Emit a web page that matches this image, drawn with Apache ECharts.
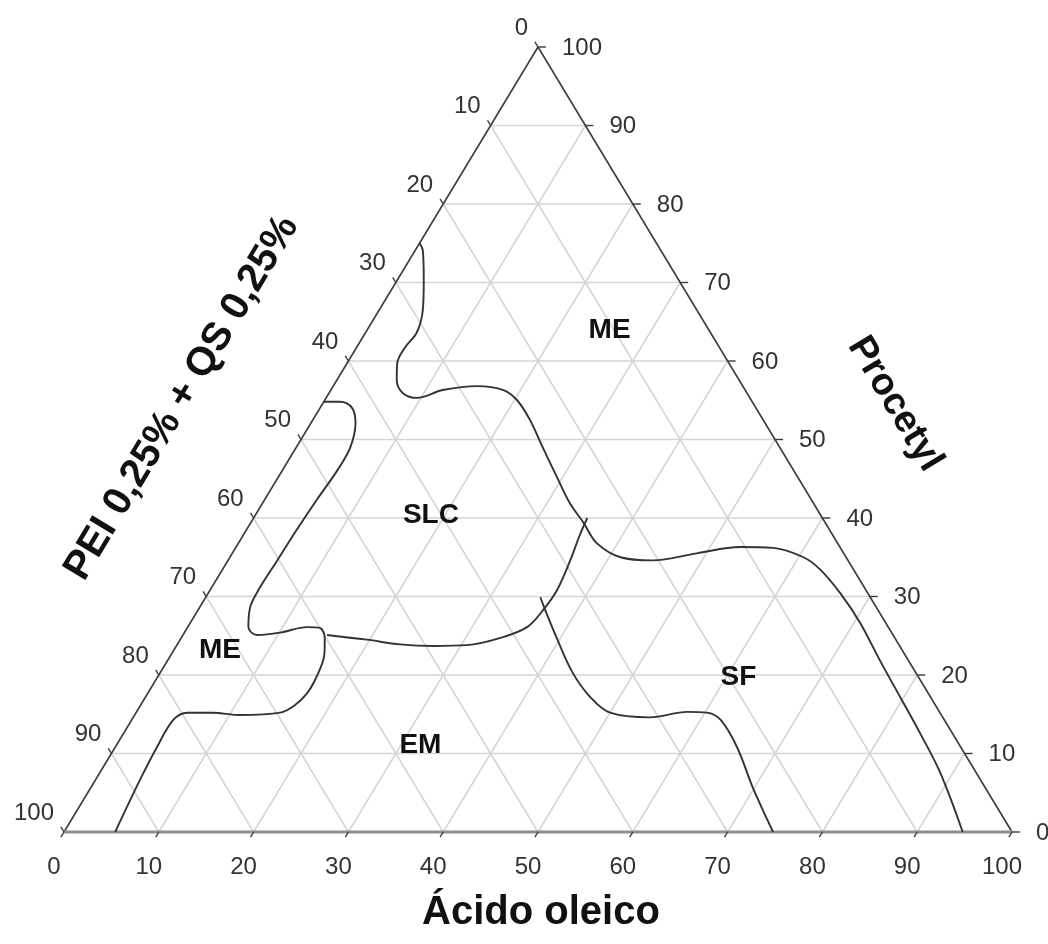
<!DOCTYPE html>
<html><head><meta charset="utf-8">
<script src="https://cdn.jsdelivr.net/npm/echarts@6/dist/echarts.min.js"></script>
<style>html,body{margin:0;padding:0;background:#fff}#c{width:1048px;height:944px}</style>
</head><body><div id="c"></div>
<script>
// ---- data (ternary compositions: [Ácido oleico %, Procetyl %]; PEI = 100 - both) ----
const tickValues = [0,10,20,30,40,50,60,70,80,90,100];
const tickLabels = ['0','10','20','30','40','50','60','70','80','90','100'];
const gridLevels = [10,20,30,40,50,60,70,80,90];
const axisTitles = ['Ácido oleico','Procetyl','PEI 0,25% + QS 0,25%'];

const curveMEupper = [[0,75.0],[0.8,74.1],[2.8,70.3],[4.6,66.5],[5.4,63.6],[5.1,61.7],[5.3,59.7],[6.3,57.6],[7.8,55.9],[9.6,55.3],[11.8,56.3],[15.2,56.8],[18.2,56.3],[20.3,55.0],[22.9,52.5],[26.0,49.0],[29.4,45.2],[32.4,41.9],[35.1,39.4],[37.8,36.8],[41.2,35.0],[44.8,34.6],[49.0,35.5],[53.2,36.3],[56.7,36.2],[60.5,35.0],[63.1,33.4],[66.7,30.4],[70.7,26.6],[75.1,21.9],[79.6,17.2],[84.0,12.6],[88.7,7.5],[94.8,0]];
const curveSLCleft = [[0,54.8],[1.7,54.8],[3.4,54.0],[4.7,52.1],[5.7,49.0],[5.8,46.1],[5.5,42.3],[5.3,38.5],[5.2,34.6],[5.1,31.2],[5.3,28.7],[6.4,26.1],[7.8,25.1],[10.1,25.4],[12.6,26.1],[14.0,26.0],[15.1,24.8],[15.7,23.6],[16.4,21.9],[16.8,19.4],[16.8,17.7],[16.3,16.2],[15.2,15.2],[11.1,14.9],[8.1,15.2],[5.4,15.2],[4.4,14.3],[4.4,10.8],[4.7,6.6],[5.4,0]];
const curveSLClower = [[15.2,25.1],[19.7,24.5],[23.5,23.9],[27.1,23.7],[30.6,23.8],[33.6,24.7],[35.8,26.1],[36.4,28.3],[36.6,30.8],[36.1,34.6],[35.5,37.8],[35.2,40.0]];
const curveEMSF = [[35.3,29.9],[36.6,28.3],[39.8,24.5],[43.5,20.3],[46.9,17.2],[50.0,15.2],[54.5,14.6],[58.1,15.3],[60.2,15.2],[62.1,14.3],[65.6,10.8],[69.8,5.7],[74.8,0]];

const regionNames = ['ME','SLC','ME','SF','EM'];
const regionOleic = [25.6,18.5,4.9,61.3,32.1];
const regionProcetyl = [63.9,40.4,23.1,19.7,11.0];

// ---- ternary -> cartesian (x in 0..100 along base, y = Procetyl) ----
function toXY(p){ return [p[0] + p[1]/2, p[1]]; }

const FONT = '"Liberation Sans", Arial, Helvetica, sans-serif';
const chart = echarts.init(document.getElementById('c'), null, {renderer:'canvas'});

const gridData = [];
[0,1,2].forEach(f => gridLevels.forEach(k => gridData.push([f,k])));
const tickData = [];
[0,1,2].forEach(a => tickValues.forEach((v,i) => tickData.push([a,v,i])));
const regionData = regionNames.map((n,i) => { const xy = toXY([regionOleic[i], regionProcetyl[i]]); return [xy[0], xy[1], i]; });

function curveSeries(pts){
  return {type:'line', data: pts.map(toXY), smooth:0.35, showSymbol:false, clip:false,
    lineStyle:{color:'#333333', width:1.9}, z:5, silent:true};
}

const option = {
  backgroundColor:'#ffffff',
  animation:false,
  grid:{left:64, right:36, top:47, bottom:112},
  xAxis:{type:'value', min:0, max:100, show:false},
  yAxis:{type:'value', min:0, max:100, show:false},
  series:[
    { // grid lines
      type:'custom', data:gridData, z:1, silent:true, clip:false,
      renderItem:function(params, api){
        const f = api.value(0), k = api.value(1);
        let a, b;
        if (f === 0){ a=[0,k]; b=[100-k,k]; }          // constant Procetyl
        else if (f === 1){ a=[k,0]; b=[k,100-k]; }     // constant Ácido oleico
        else { a=[100-k,0]; b=[0,100-k]; }             // constant PEI
        const p1 = api.coord(toXY(a)), p2 = api.coord(toXY(b));
        return {type:'line', shape:{x1:p1[0],y1:p1[1],x2:p2[0],y2:p2[1]},
          style:{stroke:'#d5d5d5', lineWidth:1.5}};
      }
    },
    { // triangle side edges
      type:'line', data:[[0,0],[0,100],[100,0]].map(toXY), showSymbol:false, clip:false, silent:true,
      lineStyle:{color:'#3c3c3c', width:1.6}, z:3
    },
    { // bottom edge
      type:'line', data:[[0,0],[100,0]].map(toXY), showSymbol:false, clip:false, silent:true,
      lineStyle:{color:'#8e8e8e', width:3.2}, z:3
    },
    { // ticks and tick labels
      type:'custom', data:tickData, z:4, silent:true, clip:false,
      renderItem:function(params, api){
        const ax = api.value(0), v = api.value(1), i = api.value(2);
        let p, d, lx, ly, al;
        if (ax === 0){ p = api.coord(toXY([v,0])); d=[-0.518*6, 0.855*6]; lx=p[0]-10; ly=p[1]+35; al='center'; }
        else if (ax === 1){ p = api.coord(toXY([100-v,v])); d=[8,0]; lx=p[0]+24; ly=p[1]+1; al='left'; }
        else { p = api.coord(toXY([0,100-v])); d=[-0.515*6,-0.857*6]; lx=p[0]-10; ly=p[1]-19; al='right'; }
        return {type:'group', children:[
          {type:'line', shape:{x1:p[0],y1:p[1],x2:p[0]+d[0],y2:p[1]+d[1]}, style:{stroke:'#3c3c3c', lineWidth:1.4}},
          {type:'text', x:lx, y:ly, style:{text:tickLabels[i], font:'24px '+FONT, fill:'#333333',
            textAlign:al, align:al, textVerticalAlign:'middle', verticalAlign:'middle'}}
        ]};
      }
    },
    curveSeries(curveMEupper),
    curveSeries(curveSLCleft),
    curveSeries(curveSLClower),
    curveSeries(curveEMSF),
    { // region labels
      type:'custom', data:regionData, z:6, silent:true, clip:false,
      renderItem:function(params, api){
        const p = api.coord([api.value(0), api.value(1)]);
        const i = api.value(2);
        return {type:'text', x:p[0], y:p[1], style:{text:regionNames[i], font:'bold 28px '+FONT, fill:'#111111',
          textAlign:'center', align:'center', textVerticalAlign:'middle', verticalAlign:'middle'}};
      }
    }
  ],
  graphic:[
    {type:'text', x:541, y:913, silent:true,
      style:{text:axisTitles[0], font:'bold 40px '+FONT, fill:'#111111', textAlign:'center', align:'center', textVerticalAlign:'middle', verticalAlign:'middle'}},
    {type:'text', x:895, y:404, rotation:-59*Math.PI/180, silent:true,
      style:{text:axisTitles[1], font:'bold 38px '+FONT, fill:'#111111', textAlign:'center', align:'center', textVerticalAlign:'middle', verticalAlign:'middle'}},
    {type:'text', x:182, y:398, rotation:59*Math.PI/180, silent:true,
      style:{text:axisTitles[2], font:'bold 40px '+FONT, fill:'#111111', textAlign:'center', align:'center', textVerticalAlign:'middle', verticalAlign:'middle'}}
  ]
};
chart.setOption(option);
</script>
</body></html>
